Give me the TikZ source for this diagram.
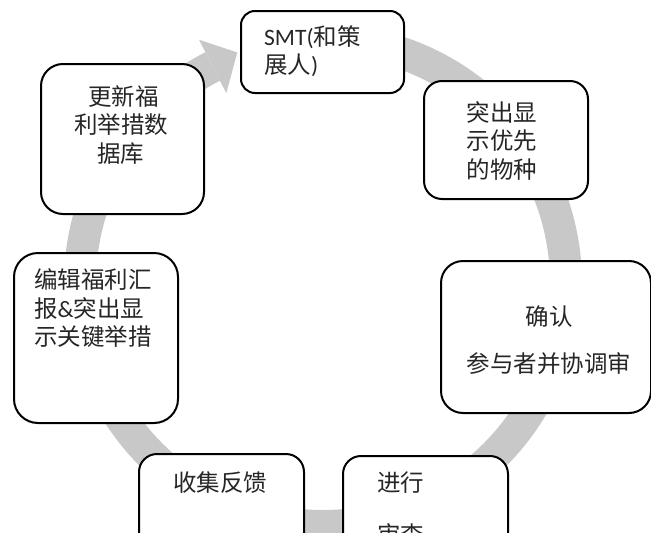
\documentclass[tikz,border=0pt]{standalone}
\usepackage{fontspec}
\setmainfont{Noto Sans CJK SC}
\newfontfamily\lat{Carlito}
\definecolor{ringgray}{RGB}{200,200,200}
\begin{document}
\begin{tikzpicture}[x=1pt,y=-1pt,
  box/.style={draw=black,line width=2pt,fill=white,rounded corners=#1,anchor=north west,inner sep=0pt},
  box/.default=16pt,
  lbl/.style={inner sep=0pt,font=\fontsize{23.5pt}{28.5pt}\selectfont,text=black!85}]
\useasboundingbox (0,0) rectangle (651,533);
\coordinate (c) at (323,283);
% ring
\draw[line width=32pt,ringgray] ([shift={(-90:243)}]c) arc[start angle=-90,end angle=243,radius=243];
\fill[ringgray] ([shift={(243:273)}]c) -- ([shift={(243:213)}]c) -- ([shift={(249.6:246)}]c) -- cycle;
% boxes
\node[box=14pt,minimum width=163pt,minimum height=82pt] (smtbox) at (240,10) {};
\node[box=18pt,minimum width=164pt,minimum height=118pt] (yxbox) at (423,80) {};
\node[box=22pt,minimum width=210pt,minimum height=152pt] (qrbox) at (440,260) {};
\node[box=18pt,minimum width=165pt,minimum height=110pt] (jxbox) at (342,455) {};
\node[box=18pt,minimum width=165pt,minimum height=110pt] (sjbox) at (138,453) {};
\node[box=24pt,minimum width=164pt,minimum height=170pt] (bjbox) at (13,252) {};
\node[box=22pt,minimum width=163pt,minimum height=150pt] (gxbox) at (40,63) {};
% texts
\node[lbl,anchor=west,align=left] (smt) at (264,51) {{\lat SMT(}和策\\展人{\lat )}};
\node[lbl,align=center] (yx) at (502,140.5) {突出显\\示优先\\的物种};
\node[lbl,align=center] (qr) at (549,340) {确认\\[19pt]参与者并协调审};
\node[lbl,anchor=west,align=left] (jx) at (377,508.5) {进行\\[23.5pt]审查};
\node[lbl] (sj) at (220,483) {收集反馈};
\node[lbl,anchor=west,align=left] (bj) at (34,308.5) {编辑福利汇\\报{\lat\&}突出显\\示关键举措};
\node[lbl,align=center] (gx) at (121,125) {\ 更新福\\利举措数\\据库};
\end{tikzpicture}
\end{document}
